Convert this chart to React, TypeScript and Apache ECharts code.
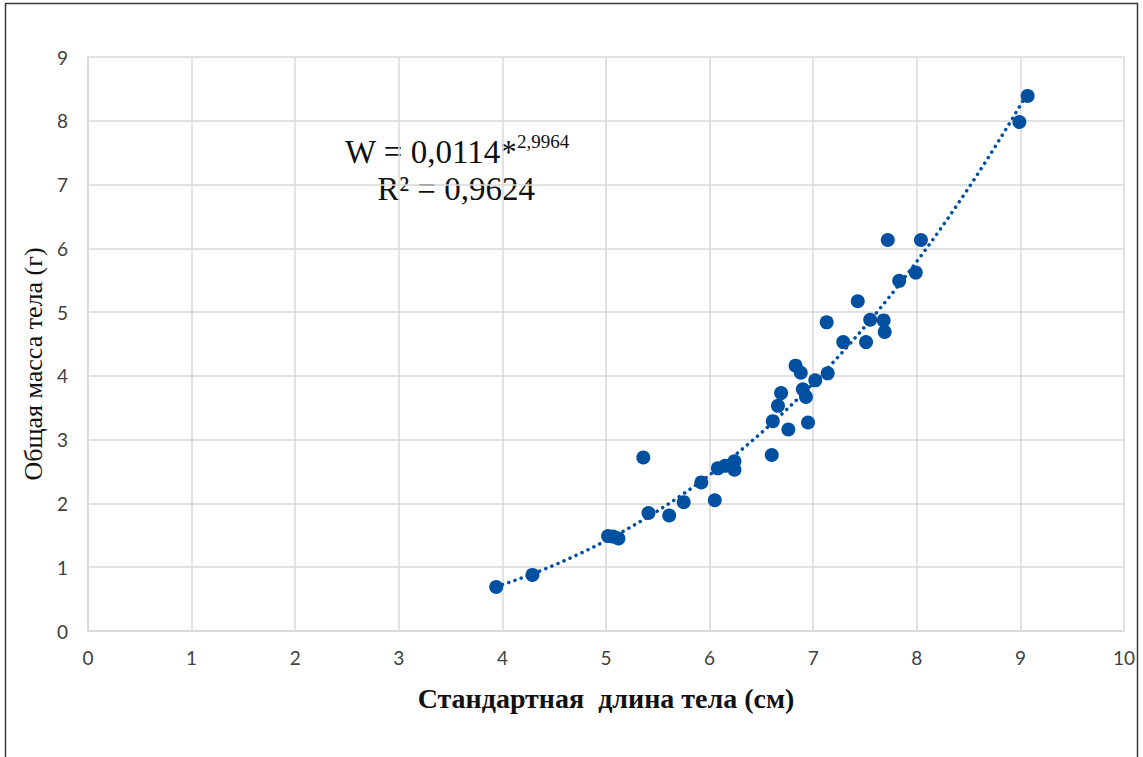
import React, { useEffect, useRef } from "react";
import * as echarts from "echarts";

// Standard body length (cm)
const lengths = [
  3.94, 4.29, 5.02, 5.07, 5.12, 5.41, 5.61, 5.75, 6.05, 5.92,
  5.36, 6.08, 6.15, 6.24, 6.24, 6.60, 6.76, 6.61, 6.95, 6.66,
  6.69, 6.93, 6.90, 7.02, 7.14, 6.88, 6.83, 7.29, 7.51, 7.69,
  7.68, 7.55, 7.13, 7.43, 7.83, 7.99, 7.72, 8.04, 8.99, 9.07,
];
// Total body mass (g)
const masses = [
  0.69, 0.88, 1.49, 1.48, 1.45, 1.85, 1.81, 2.02, 2.05, 2.33,
  2.72, 2.55, 2.59, 2.66, 2.53, 2.76, 3.16, 3.29, 3.27, 3.53,
  3.73, 3.67, 3.79, 3.93, 4.04, 4.05, 4.16, 4.53, 4.53, 4.69,
  4.87, 4.88, 4.84, 5.17, 5.49, 5.62, 6.13, 6.13, 7.98, 8.39,
];
// Power trendline coefficients shown on the chart: W = a * L^b
const trendA = 0.0114;
const trendB = 2.9964;
const xTicks = [0, 10];
const yTicks = [0, 9];

const xTitle = "Стандартная  длина тела (см)";
const yTitle = "Общая масса тела (г)";

export default function App() {
  const ref = useRef<HTMLDivElement>(null);
  useEffect(() => {
    document.body.style.margin = "0";
    const chart = echarts.init(ref.current!, null, { renderer: "svg" });
    const points = lengths.map((l, i) => [l, masses[i]]);
    const lo = Math.min(...lengths);
    const hi = Math.max(...lengths);
    const trend: number[][] = [];
    const n = 60;
    for (let i = 0; i <= n; i++) {
      const x = lo + ((hi - lo) * i) / n;
      trend.push([x, trendA * Math.pow(x, trendB)]);
    }
    const grid = "#d9d9d9";
    const blue = "#0050A2";
    chart.setOption({
      animation: false,
      backgroundColor: "#fff",
      grid: { left: 88, right: 19, top: 57, bottom: 126 },
      xAxis: {
        type: "value",
        min: xTicks[0],
        max: xTicks[1],
        interval: 1,
        axisLine: { show: true, lineStyle: { color: grid, width: 1.5 } },
        axisTick: { show: false },
        splitLine: { show: true, lineStyle: { color: grid, width: 1.5 } },
        axisLabel: { color: "#404040", fontSize: 19, fontFamily: "Lato", margin: 17 },
      },
      yAxis: {
        type: "value",
        min: yTicks[0],
        max: yTicks[1],
        interval: 1,
        axisLine: { show: true, lineStyle: { color: grid, width: 1.5 } },
        axisTick: { show: false },
        splitLine: { show: true, lineStyle: { color: grid, width: 1.5 } },
        axisLabel: { color: "#404040", fontSize: 19, fontFamily: "Lato", margin: 20 },
      },
      series: [
        {
          type: "line",
          data: trend,
          showSymbol: false,
          symbol: "none",
          smooth: false,
          lineStyle: { color: blue, width: 3.5, type: [0.1, 6.5], cap: "round" },
          z: 2,
        },
        {
          type: "scatter",
          data: points,
          symbolSize: 14,
          itemStyle: { color: blue, opacity: 1 },
          z: 3,
        },
      ],
      graphic: [
        {
          type: "rect",
          shape: { x: 5.5, y: 3.5, width: 1132, height: 770 },
          style: { fill: "none", stroke: "#3a3a3a", lineWidth: 1.5 },
          silent: true,
        },
        {
          type: "text",
          x: 457,
          y: 150,
          style: {
            text: "{a|W = 0,0114*}{b|2,9964}",
            align: "center",
            verticalAlign: "middle",
            rich: {
              a: { fontFamily: "Liberation Serif", fontSize: 33, fill: "#111", lineHeight: 36, verticalAlign: "bottom" },
              b: { fontFamily: "Liberation Serif", fontSize: 19, fill: "#111", lineHeight: 36, verticalAlign: "top", padding: [0, 0, 13, 0] },
            },
          },
        },
        {
          type: "text",
          x: 456,
          y: 189,
          style: {
            text: "R² = 0,9624",
            align: "center",
            verticalAlign: "middle",
            fontFamily: "Liberation Serif",
            fontSize: 33,
            fill: "#111",
          },
        },
        {
          type: "text",
          x: 606,
          y: 698,
          style: {
            text: xTitle,
            align: "center",
            verticalAlign: "middle",
            fontFamily: "Liberation Serif",
            fontWeight: "bold",
            fontSize: 28,
            fill: "#111",
          },
        },
        {
          type: "text",
          x: 33,
          y: 364,
          rotation: Math.PI / 2,
          style: {
            text: yTitle,
            align: "center",
            verticalAlign: "middle",
            fontFamily: "Liberation Serif",
            fontSize: 26,
            fill: "#111",
          },
        },
      ],
    });
    return () => chart.dispose();
  }, []);
  return <div ref={ref} style={{ width: 1143, height: 757 }} />;
}
